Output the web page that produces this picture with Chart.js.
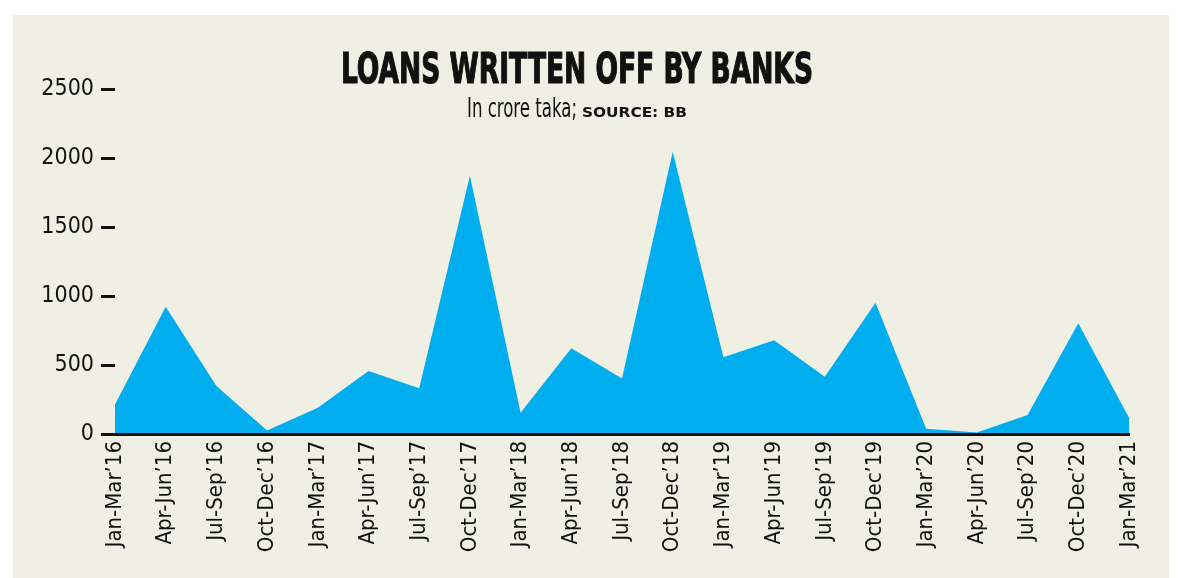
<!DOCTYPE html>
<html>
<head>
  <title>Loans written off by banks</title>
  <script src="https://cdn.jsdelivr.net/npm/chart.js"></script>
  <style>
    body { margin: 0; background: #fff; }
    #panel { position: absolute; left: 13px; top: 15px; width: 1156px; height: 563px; background: #f0efe4; }
    canvas { display: block; }
  </style>
</head>
<body>

<div id="panel"><canvas id="loansChart"></canvas></div>

<script>
  const quarters = [
    "Jan-Mar’16", "Apr-Jun’16", "Jul-Sep’16", "Oct-Dec’16",
    "Jan-Mar’17", "Apr-Jun’17", "Jul-Sep’17", "Oct-Dec’17",
    "Jan-Mar’18", "Apr-Jun’18", "Jul-Sep’18", "Oct-Dec’18",
    "Jan-Mar’19", "Apr-Jun’19", "Jul-Sep’19", "Oct-Dec’19",
    "Jan-Mar’20", "Apr-Jun’20", "Jul-Sep’20", "Oct-Dec’20",
    "Jan-Mar’21"
  ];
  const writtenOff = [
    213, 923, 348, 25,
    191, 457, 331, 1872,
    154, 621, 403, 2046,
    556, 679, 415, 951,
    38, 10, 138, 802,
    118
  ];
  const yTicks = [0, 500, 1000, 1500, 2000, 2500];

  const FONT = "'Liberation Sans Narrow', 'DejaVu Sans Condensed', 'Arial Narrow', Roboto, sans-serif";

  // title + subtitle, squeezed horizontally to look like a condensed face
  const headline = {
    id: 'headline',
    afterDraw(chart) {
      const ctx = chart.ctx;
      ctx.save();
      ctx.fillStyle = '#111';
      ctx.textBaseline = 'alphabetic';

      ctx.font = "bold 43px " + FONT;
      const title = 'LOANS WRITTEN OFF BY BANKS';
      let w = ctx.measureText(title).width;
      ctx.save();
      ctx.translate(328, 68);
      ctx.scale(472 / w, 1);
      ctx.lineWidth = 1.2;
      ctx.strokeStyle = '#111';
      ctx.fillText(title, 0, 0);
      ctx.strokeText(title, 0, 0);
      ctx.restore();

      ctx.font = "26px " + FONT;
      const part1 = 'In crore taka;';
      let w1 = ctx.measureText(part1).width;
      ctx.save();
      ctx.translate(454, 102);
      ctx.scale(110 / w1, 1);
      ctx.fillText(part1, 0, 0);
      ctx.restore();

      ctx.font = "bold 14px 'DejaVu Sans', sans-serif";
      const part2 = 'SOURCE: BB';
      let w2 = ctx.measureText(part2).width;
      ctx.save();
      ctx.translate(569, 102);
      ctx.scale(105 / w2, 1);
      ctx.fillText(part2, 0, 0);
      ctx.restore();
      ctx.restore();
    }
  };

  const ctx = document.getElementById('loansChart').getContext('2d');
  new Chart(ctx, {
    type: 'line',
    data: {
      labels: quarters,
      datasets: [{
        data: writtenOff,
        fill: 'origin',
        backgroundColor: '#00aeef',
        borderWidth: 0,
        pointRadius: 0,
        tension: 0
      }]
    },
    options: {
      responsive: true,
      maintainAspectRatio: false,
      animation: false,
      layout: { padding: { top: 74, right: 40, left: 0, bottom: 0 } },
      plugins: { legend: { display: false }, tooltip: { enabled: false } },
      scales: {
        x: {
          offset: false,
          afterFit: s => { s.height = 144; },
          grid: { display: false, drawTicks: false },
          border: { display: true, color: '#111', width: 3, z: 1 },
          ticks: {
            minRotation: 90, maxRotation: 90, autoSkip: false,
            padding: 7, color: '#111',
            font: { family: FONT, size: 22 }
          }
        },
        y: {
          min: 0, max: 2500,
          afterFit: s => { s.width = 102; },
          afterBuildTicks: s => { s.ticks = yTicks.map(v => ({ value: v })); },
          border: { display: false },
          grid: { drawOnChartArea: false, drawTicks: true, tickLength: 14, tickWidth: 3, tickColor: '#111' },
          ticks: {
            padding: 7, color: '#111',
            font: { family: FONT, size: 23 },
            callback: v => String(v)
          }
        }
      }
    },
    plugins: [headline]
  });
</script>

</body>
</html>
